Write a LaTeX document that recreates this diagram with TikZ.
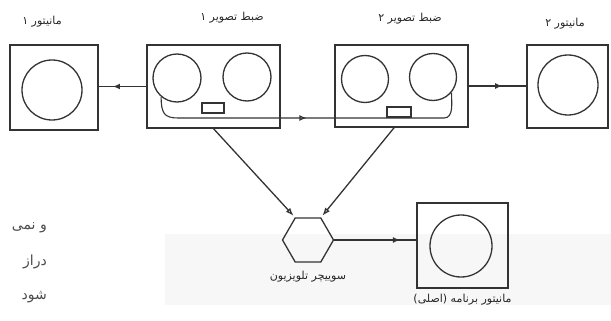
\documentclass[tikz,border=0pt]{standalone}
\usepackage{fontspec}
\newfontfamily\farsi[Script=Arabic]{DejaVu Sans}
\TeXXeTstate=1
\usetikzlibrary{shapes.geometric, arrows.meta, positioning, decorations.markings}

\begin{document}
\begin{tikzpicture}[
    x=1pt, y=-1pt, font=\farsi\fontsize{11}{13}\selectfont, node distance=4pt,
    ink/.style={draw=black!80, line width=1.3pt},
    box/.style={ink, rectangle, inner sep=0pt},
    reel/.style={ink, circle, inner sep=0pt},
    lbl/.style={text=black!85, inner sep=1pt},
    frag/.style={text=black!70, inner sep=0pt, font=\farsi\fontsize{14}{16}\selectfont, anchor=east},
    midarrow/.style={postaction={decorate}, decoration={markings,
        mark=at position #1 with {\arrow{Latex[open, length=7pt, width=6pt]}}}},
    feed/.style={ink, -{Latex[open, length=8pt, width=6pt]}},
]
\useasboundingbox (0,0) rectangle (611,321);
\fill[black!3] (165,234) rectangle (611,305);

% monitors and recorders
\node[box, minimum width=88pt, minimum height=85pt] (mon1) at (54,87.5) {};
\node[reel, minimum size=60pt] (mon1scr) at (52,90) {};
\node[box, minimum width=133pt, minimum height=83pt] (rec1) at (213.5,86.5) {};
\node[reel, minimum size=48pt] (rec1a) at (177,78) {};
\node[reel, minimum size=48pt] (rec1b) at (247,77) {};
\node[box, minimum width=22pt, minimum height=10pt] (head1) at (213,108) {};
\node[box, minimum width=133pt, minimum height=82pt] (rec2) at (401.5,86) {};
\node[reel, minimum size=47pt] (rec2a) at (365,79) {};
\node[reel, minimum size=47pt] (rec2b) at (433,77) {};
\node[box, minimum width=24pt, minimum height=10pt] (head2) at (399,112) {};
\node[box, minimum width=81pt, minimum height=83pt] (mon2) at (567.5,86.5) {};
\node[reel, minimum size=60pt] (mon2scr) at (568,85) {};
\node[ink, regular polygon, regular polygon sides=6, minimum size=51pt, inner sep=0pt] (switch) at (308,240) {};
\node[box, minimum width=91pt, minimum height=85pt] (prog) at (462.5,245.5) {};
\node[reel, minimum size=62pt] (progscr) at (461,246) {};

% labels
\node[lbl] (mon1lbl) at (42,22) {\beginR مانیتور ۱\endR};
\node[lbl] (rec1lbl) at (232,18) {\beginR ضبط تصویر ۱\endR};
\node[lbl] (rec2lbl) at (410,19) {\beginR ضبط تصویر ۲\endR};
\node[lbl] (mon2lbl) at (565,24) {\beginR مانیتور ۲\endR};
\node[lbl, below=7pt of switch] (switchlbl) {\beginR سوییچر تلویزیون\endR};
\node[lbl, below=4pt of prog] (proglbl) {\beginR مانیتور برنامه (اصلی)\endR};

% text cut off at the page edge
\node[frag] (frag1) at (47,228) {\beginR و نمی\endR};
\node[frag] (frag2) at (47,262) {\beginR دراز\endR};
\node[frag] (frag3) at (47,297) {\beginR شود\endR};

% tape and signal lines
\coordinate (tapeL) at (178,118);
\coordinate (tapeR) at (444,118);
\draw[ink, line width=1.1pt, midarrow=0.49] (rec1a.230) .. controls +(0,16) and +(-14,0) .. (tapeL)
    -- (tapeR) .. controls +(10,0) and +(0,10) .. (rec2b.-40);
\draw[ink, midarrow=0.7] (rec1.west) -- (rec1.west -| mon1.east);
\draw[ink, midarrow=0.58] (rec2.east) -- (rec2.east -| mon2.west);
\draw[feed, shorten >=2pt] (rec1.south) -- (switch.120);
\draw[feed, shorten >=2pt] (rec2.-100) -- (switch.60);
\draw[ink, midarrow=0.8] (switch.east) -- (switch.east -| prog.west);
\end{tikzpicture}
\end{document}
